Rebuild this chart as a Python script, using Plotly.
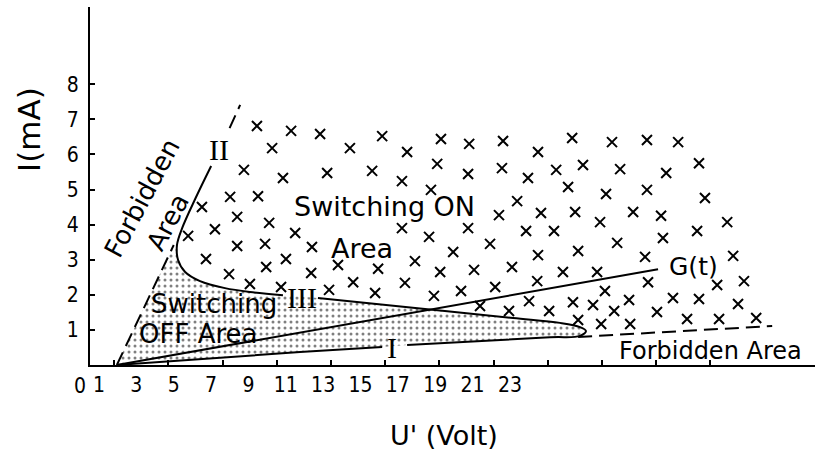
import plotly.graph_objects as go

# ---- axis ticks -------------------------------------------------------------
u_ticks = [1, 3, 5, 7, 9, 11, 13, 15, 17, 19, 21, 23]          # tick marks on the U' axis
u_labels = [1, 3, 5, 7, 9, 11, 13, 15, 17, 19, 21, 23]         # printed U' scale
u_origin_label = 0                                              # printed left of the I axis
i_ticks = [1, 2, 3, 4, 5, 6, 7, 8]

# ---- measured switching-ON points (U' in V, I in mA) ----------------------
on_u = [6.27, 7.53, 8.60, 6.83, 9.70, 10.89, 11.81, 13.06, 14.10,
        5.79, 7.23, 8.86, 10.52, 11.62, 12.92, 14.06, 12.69,
        5.28, 6.31, 4.24, 5.54, 6.72, 4.72, 3.73, 7.68, 5.54, 6.57, 8.30,
        11.62, 12.62, 14.06, 4.39, 7.34, 6.61, 9.26, 10.74, 12.10, 13.51,
        14.87, 5.24, 8.27, 13.03, 14.28, 6.01, 7.16, 8.93, 9.82, 10.63,
        11.73, 12.80, 13.80, 14.50,
        15.35, 16.64, 17.90, 19.37, 20.66, 21.81,
        15.31, 16.27, 17.31, 18.30, 17.75, 19.67, 21.37, 22.58,
        19.15, 20.66, 22.80, 15.87, 15.20, 16.75, 18.01, 18.93, 20.15,
        21.18, 23.62, 16.20, 17.23, 19.56, 21.25, 22.51, 16.64, 18.12,
        20.59, 23.84, 15.68, 17.56, 18.82, 20.70, 23.25, 24.24, 15.06,
        16.61, 19.11, 15.57, 16.31, 17.05, 17.93, 18.67, 19.45, 20.00,
        21.62, 22.58, 24.02, 18.12, 18.97, 20.04, 21.03, 22.14, 23.32, 24.69]
on_i = [6.81, 6.67, 6.58, 6.18, 6.18, 6.52, 6.07, 6.44, 6.30,
        5.56, 5.33, 5.47, 5.53, 5.24, 5.73, 5.44, 4.99,
        4.79, 4.81, 4.50, 4.22, 4.05, 3.87, 3.68, 3.76, 3.39, 3.45, 3.36,
        3.90, 3.65, 3.90, 3.02, 3.02, 2.79, 2.85, 2.74, 2.96, 3.22,
        3.45, 2.59, 2.62, 2.65, 2.71, 2.31, 2.22, 2.14, 2.36, 2.05,
        2.34, 1.97, 2.11, 1.68,
        6.38, 6.07, 6.47, 6.35, 6.41, 6.35,
        5.61, 5.33, 5.56, 5.70, 5.07, 5.58, 5.47, 5.75,
        4.87, 4.99, 4.76, 4.67, 4.27, 4.33, 4.36, 4.07, 4.36,
        4.25, 4.07, 3.82, 3.82, 3.48, 3.62, 3.82, 3.13, 3.25,
        3.08, 3.11, 2.79, 2.65, 2.65, 2.36, 2.28, 2.39, 2.22,
        2.39, 2.11, 1.54, 1.82, 1.54, 1.79, 1.71, 1.54, 1.85,
        1.91, 1.88, 1.74, 1.28, 1.17, 1.17, 1.51, 1.31, 1.31, 1.34]

# ---- boundary curves --------------------------------------------------------
# left forbidden limit (dashed), lower and upper pieces
forb_low_u, forb_low_i = [1.1, 3.2], [0.0, 3.42]
forb_up_u, forb_up_i = [5.26, 5.65], [6.75, 7.41]
# curve II: runs down the forbidden limit, then bends right towards III
curve2_u = [4.58, 3.99, 3.51, 3.32, 3.36, 3.62, 4.17, 5.09, 6.01, 7.23]
curve2_i = [5.67, 4.73, 3.90, 3.42, 2.99, 2.65, 2.39, 2.19, 2.08, 1.99]
# curve III to the tip of the OFF area
curve3_u = [8.52, 12.29, 15.72, 17.45, 18.19, 18.41, 18.19]
curve3_i = [1.91, 1.61, 1.34, 1.20, 1.08, 0.97, 0.83]
# curve I back to the origin (broken at its label)
curve1a_u, curve1a_i = [18.19, 17.08, 11.81], [0.83, 0.79, 0.57]
curve1b_u, curve1b_i = [10.89, 7.86, 1.1], [0.51, 0.37, 0.0]
# load line G(t)
g_u, g_i = [1.1, 21.07], [0.0, 2.73]
# lower-right forbidden limit (dashed)
forb_r_u, forb_r_i = [18.12, 25.28], [0.80, 1.11]

LINE = dict(color="black", width=2)
DASH = dict(color="black", width=2, dash="14px,7px")
TXT = "DejaVu Sans"
NUM = "Liberation Sans Narrow, DejaVu Sans Condensed, DejaVu Sans"
ROMAN = "Liberation Serif"
NUM_FONT = dict(family=NUM, size=21, color="black")

# plotted area: x = 90 .. 815 px, y = 7 .. 365 px
PLOT_L, PLOT_W, PLOT_T, PLOT_H = 90, 725, 7, 358
# printed U' scale: position of value 0 and spacing per volt
SCALE0, SCALE_STEP = 80.3, 18.68
def paper_x(p):
    return (p - PLOT_L) / PLOT_W
def paper_y(p):
    return (PLOT_T + PLOT_H - p) / PLOT_H

fig = go.Figure()

# stippled switching-OFF area
off_u = forb_low_u + curve2_u[3:] + curve3_u + curve1a_u[1:] + curve1b_u
off_i = forb_low_i + curve2_i[3:] + curve3_i + curve1a_i[1:] + curve1b_i
fig.add_trace(go.Scatter(
    x=off_u, y=off_i, mode="lines", fill="toself",
    line=dict(width=0, color="rgba(0,0,0,0)"),
    fillpattern=dict(shape=".", size=6, solidity=0.2,
                     fgcolor="black", bgcolor="white"),
    hoverinfo="skip", showlegend=False))

def add_line(u, i, style, shape="linear"):
    fig.add_trace(go.Scatter(x=u, y=i, mode="lines", line=dict(**style, shape=shape),
                             hoverinfo="skip", showlegend=False))

add_line(forb_low_u + [None] + forb_up_u, forb_low_i + [None] + forb_up_i, DASH)
add_line(forb_r_u, forb_r_i, DASH)
add_line(curve2_u, curve2_i, LINE, "spline")
add_line(curve3_u + curve1a_u[1:] + [None] + curve1b_u,
         curve3_i + curve1a_i[1:] + [None] + curve1b_i, LINE, "spline")
add_line(g_u, g_i, LINE)

fig.add_trace(go.Scatter(
    x=on_u, y=on_i, mode="markers",
    marker=dict(symbol="x-thin", size=10, line=dict(width=2, color="black")),
    hoverinfo="skip", showlegend=False))

# carrier for the printed U' scale
fig.add_trace(go.Scatter(x=u_labels, y=[None] * len(u_labels), xaxis="x2",
                         mode="none", hoverinfo="skip", showlegend=False))

def note(text, x, y, size=26, angle=0, family=TXT, xref="x", yref="y"):
    fig.add_annotation(text=text, x=x, y=y, showarrow=False, textangle=angle,
                       font=dict(family=family, size=size, color="black"),
                       xanchor="center", yanchor="middle", xref=xref, yref=yref)

note("Switching ON", 10.96, 4.53, 27)
note("Area", 10.15, 3.33, 27)
note("Switching", 4.69, 1.74, 26)
note("OFF Area", 4.10, 0.88, 26)
note("Forbidden", 2.03, 4.76, 26, -62)
note("Area", 2.99, 4.07, 26, -62)
note("Forbidden Area", 22.99, 0.40, 24)
note("G(t)", 22.36, 2.82, 25)
note("II", 4.87, 6.15, 30, family=ROMAN)
note("III", 7.93, 1.91, 30, family=ROMAN)
note("I", 11.25, 0.51, 30, family=ROMAN)
note("I(mA)", paper_x(29), paper_y(130), 31, -90, xref="paper", yref="paper")
note("U' (Volt)", paper_x(444), paper_y(435), 27, xref="paper", yref="paper")
# origin of the printed scale sits left of the I axis, outside the plotted area
fig.add_annotation(text=str(u_origin_label),
                   x=paper_x(SCALE0 + SCALE_STEP * u_origin_label), xref="paper",
                   y=paper_y(386), yref="paper", showarrow=False,
                   xanchor="center", yanchor="middle", font=NUM_FONT)

fig.update_layout(
    width=815, height=457,
    margin=dict(l=PLOT_L, r=0, t=PLOT_T, b=457 - PLOT_T - PLOT_H),
    paper_bgcolor="white", plot_bgcolor="white",
    xaxis=dict(range=[0.11, 26.86],
               showline=True, linewidth=2, linecolor="black",
               ticks="inside", ticklen=5, tickwidth=1.5, tickcolor="black",
               tickvals=u_ticks, showticklabels=False,
               showgrid=False, zeroline=False),
    xaxis2=dict(overlaying="x", anchor="y", side="bottom",
                range=[(PLOT_L - SCALE0) / SCALE_STEP,
                       (PLOT_L + PLOT_W - SCALE0) / SCALE_STEP],
                tickvals=u_labels, ticktext=[str(v) for v in u_labels],
                ticks="", showline=False, showgrid=False, zeroline=False,
                ticklabelstandoff=5, tickfont=NUM_FONT),
    yaxis=dict(range=[0, 10.2], showline=True, linewidth=2, linecolor="black",
               ticks="inside", ticklen=5, tickwidth=1.5, tickcolor="black",
               tickvals=i_ticks, ticktext=[str(v) for v in i_ticks],
               ticklabelstandoff=5, tickfont=NUM_FONT,
               showgrid=False, zeroline=False),
)

fig.write_html("out.html")
